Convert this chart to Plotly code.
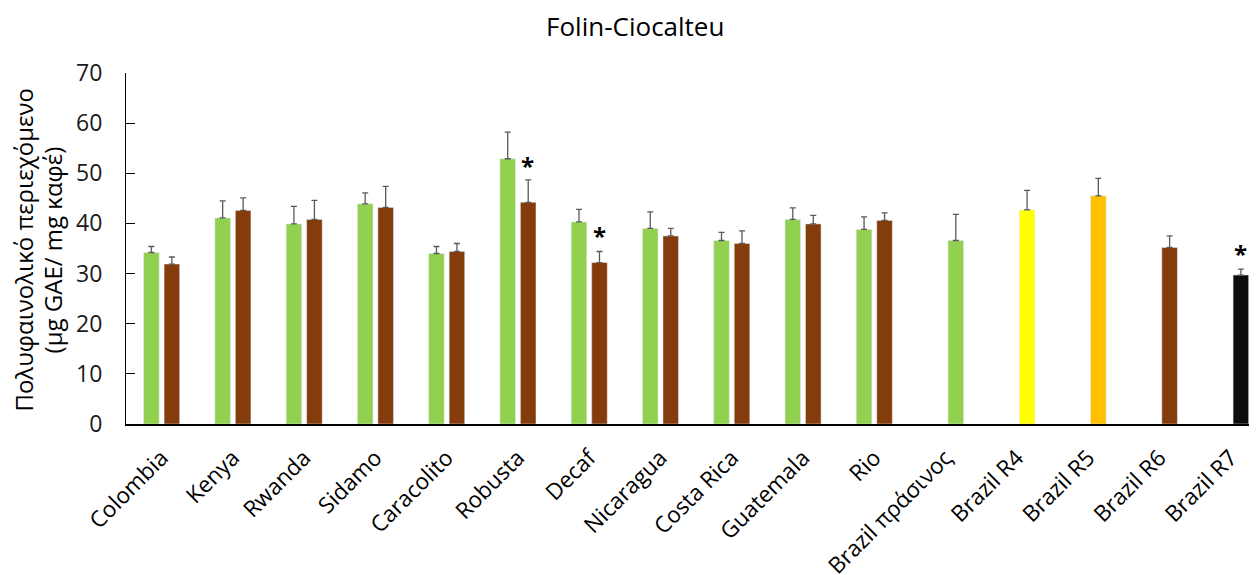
import plotly.graph_objects as go

categories = ["Colombia", "Kenya", "Rwanda", "Sidamo", "Caracolito", "Robusta", "Decaf",
              "Nicaragua", "Costa Rica", "Guatemala", "Rio", "Brazil πράσινος",
              "Brazil R4", "Brazil R5", "Brazil R6", "Brazil R7"]

green_values = [34.2, 41.1, 39.9, 43.9, 34.0, 52.9, 40.3, 39.0, 36.6, 40.8, 38.8,
                None, None, None, None, None]
green_err = [1.2, 3.4, 3.5, 2.2, 1.4, 5.3, 2.5, 3.3, 1.6, 2.3, 2.5,
             0, 0, 0, 0, 0]

second_values = [31.9, 42.6, 40.8, 43.2, 34.4, 44.2, 32.2, 37.5, 36.0, 39.9, 40.6,
                 36.6, 42.7, 45.5, 35.2, 29.7]
second_err = [1.4, 2.5, 3.8, 4.2, 1.6, 4.5, 2.2, 1.5, 2.5, 1.7, 1.5,
              5.2, 3.9, 3.5, 2.3, 1.2]

star_categories = ["Robusta", "Decaf", "Brazil R7"]
star_levels = [52.0, 37.9, 34.4]

y_title_lines = ["Πολυφαινολικό περιεχόμενο", "(μg GAE/ mg καφέ)"]

GREEN = "#92D050"
BROWN = "#843C0C"
second_colors = [BROWN] * 11 + [GREEN, "#FFFF00", "#FFC000", BROWN, "#0D0D0D"]

FONT = "Open Sans"

err_style = dict(type="data", symmetric=False, arrayminus=[0] * 16,
                 color="#5A5A5A", thickness=1.3, width=3)

fig = go.Figure()
fig.add_trace(go.Bar(x=categories, y=green_values, marker_color=GREEN,
                     error_y=dict(array=green_err, **err_style), showlegend=False))
fig.add_trace(go.Bar(x=categories, y=second_values, marker_color=second_colors,
                     error_y=dict(array=second_err, **err_style), showlegend=False))

for c, lvl in zip(star_categories, star_levels):
    fig.add_annotation(x=c, y=lvl, text="<b>*</b>", showarrow=False, xshift=10,
                       yshift=-2, font=dict(family=FONT, size=24, color="black"))

for xpos, line in zip([-0.0905, -0.0650], y_title_lines):
    fig.add_annotation(xref="paper", yref="paper", x=xpos, y=0.496, text=line,
                       textangle=-90, showarrow=False, xanchor="center", yanchor="middle",
                       font=dict(family=FONT, size=24, color="black"))

fig.update_layout(
    width=1257, height=575,
    paper_bgcolor="white", plot_bgcolor="white",
    barmode="group", bargap=0.425, bargroupgap=0.24,
    margin=dict(l=118, r=8, t=65, b=159),
    title=dict(text="Folin-Ciocalteu", x=0.499, xanchor="center", y=0.968, yanchor="middle",
               font=dict(family=FONT, size=26, color="black")),
    font=dict(family=FONT, color="black"),
)
fig.update_xaxes(range=[-0.5, 15.37], showline=True, linecolor="black", linewidth=1.5,
                 ticks="", tickangle=-45, ticklabelstandoff=10,
                 tickfont=dict(family=FONT, size=22.5, color="black"),
                 showgrid=False, automargin=False)
fig.update_yaxes(range=[0, 70], dtick=10, showline=True, linecolor="black", linewidth=1.2,
                 ticks="inside", ticklen=9, tickcolor="black", showgrid=False, zeroline=False,
                 ticklabelstandoff=18,
                 tickfont=dict(family=FONT, size=23, color="#1a1a1a"),
                 automargin=False)

fig.write_html("out.html")
